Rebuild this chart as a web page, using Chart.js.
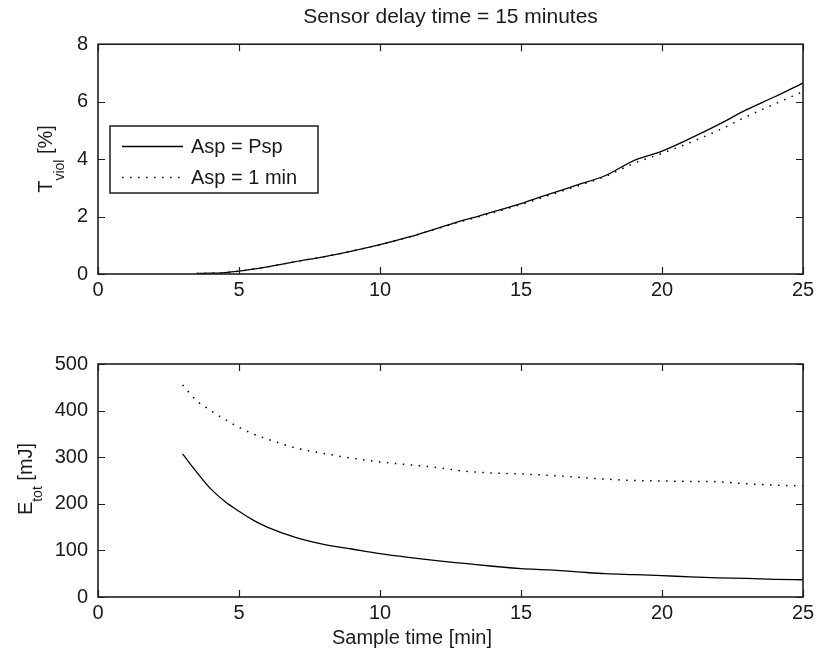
<!DOCTYPE html>
<html><head><meta charset="utf-8">
<script src="https://cdn.jsdelivr.net/npm/chart.js@4"></script>
<style>
html,body{margin:0;padding:0;background:#fff;width:819px;height:659px;overflow:hidden}
#c1{position:absolute;left:0;top:0}
#c2{position:absolute;left:0;top:320px}
</style>
</head><body>
<canvas id="c1" width="819" height="320"></canvas>
<canvas id="c2" width="819" height="339"></canvas>
<script>
// ---- data ----
const titleText = 'Sensor delay time = 15 minutes';
const xLabel = 'Sample time [min]';
const seriesNames = ['Asp = Psp', 'Asp = 1 min'];
const xTicks = [0, 5, 10, 15, 20, 25];
const topTicks = [0, 2, 4, 6, 8];
const bottomTicks = [0, 100, 200, 300, 400, 500];

const tViolX     = [3.5, 4, 4.5, 5, 6, 7, 8, 9, 10, 11, 12, 13, 14, 15, 16, 17, 18, 19, 20, 21, 22, 23, 24, 25];
const tViolPsp   = [0.02, 0.03, 0.05, 0.1, 0.25, 0.43, 0.6, 0.8, 1.02, 1.28, 1.58, 1.88, 2.16, 2.45, 2.78, 3.1, 3.43, 3.95, 4.28, 4.72, 5.2, 5.72, 6.17, 6.65];
const tViol1min  = [0.02, 0.03, 0.05, 0.1, 0.25, 0.43, 0.6, 0.8, 1.02, 1.28, 1.57, 1.86, 2.13, 2.42, 2.74, 3.06, 3.4, 3.85, 4.2, 4.58, 5.0, 5.48, 5.92, 6.35];

const eTotX      = [3, 3.5, 4, 4.5, 5, 5.5, 6, 7, 8, 9, 10, 11, 12, 13, 14, 15, 16, 17, 18, 19, 20, 21, 22, 23, 24, 25];
const eTotPsp    = [307, 268, 232, 205, 184, 165, 150, 128, 113, 103, 93, 85, 78, 72, 66, 61, 58, 54, 50, 48, 46, 43, 41, 40, 38, 37];
const eTot1min   = [455, 421, 400, 381, 364, 350, 339, 320, 308, 298, 290, 284, 278, 270, 266, 264, 261, 257, 253, 250, 249, 248, 247, 243, 240, 238];

// ---- styling ----
const FONT = '"Liberation Sans", Arial, Helvetica, sans-serif';
const TXT = '#1a1a1a';
const FRAME = '#1e1e1e';

function pts(xs, ys) { return xs.map((x, i) => ({ x: x, y: ys[i] })); }

const framePlugin = {
  id: 'matlabFrame',
  afterDraw(chart) {
    const ctx = chart.ctx, a = chart.chartArea;
    const xs = chart.scales.x, ys = chart.scales.y;
    const L = 7;
    ctx.save();
    ctx.strokeStyle = FRAME;
    ctx.lineWidth = 1.6;
    ctx.strokeRect(a.left, a.top, a.right - a.left, a.bottom - a.top);
    ctx.lineWidth = 1.2;
    ctx.beginPath();
    xs.ticks.forEach((t, i) => {
      const p = Math.round(xs.getPixelForTick(i)) + 0.5;
      ctx.moveTo(p, a.bottom); ctx.lineTo(p, a.bottom - L);
      ctx.moveTo(p, a.top); ctx.lineTo(p, a.top + L);
    });
    ys.ticks.forEach((t, i) => {
      const p = Math.round(ys.getPixelForTick(i)) + 0.5;
      ctx.moveTo(a.left, p); ctx.lineTo(a.left + L, p);
      ctx.moveTo(a.right, p); ctx.lineTo(a.right - L, p);
    });
    ctx.stroke();
    ctx.restore();
  }
};

const textPlugin = {
  id: 'extraText',
  afterDraw(chart, args, opts) {
    const ctx = chart.ctx;
    ctx.save();
    ctx.fillStyle = TXT;
    if (opts.yTitle) {
      const o = opts.yTitle;
      ctx.textBaseline = 'alphabetic';
      ctx.textAlign = 'left';
      const fMain = '20px ' + FONT, fSub = '14px ' + FONT;
      ctx.font = fMain; const w1 = ctx.measureText(o.main).width;
      ctx.font = fSub; const w2 = ctx.measureText(o.sub).width;
      ctx.font = fMain; const w3 = ctx.measureText(o.rest).width;
      const W = w1 + w2 + w3;
      ctx.save();
      ctx.translate(o.x, o.y);
      ctx.rotate(-Math.PI / 2);
      let p = -W / 2;
      ctx.font = fMain; ctx.fillText(o.main, p, 0); p += w1;
      ctx.font = fSub; ctx.fillText(o.sub, p, o.subShift); p += w2;
      ctx.font = fMain; ctx.fillText(o.rest, p, 0);
      ctx.restore();
    }
    if (opts.xTitle) {
      const o = opts.xTitle;
      ctx.font = '20px ' + FONT;
      ctx.textAlign = 'center';
      ctx.textBaseline = 'middle';
      ctx.fillText(o.text, o.x, o.y);
    }
    ctx.restore();
  }
};

const legendPlugin = {
  id: 'matlabLegend',
  afterDraw(chart, args, opts) {
    if (!opts || !opts.show) return;
    const ctx = chart.ctx;
    ctx.save();
    ctx.fillStyle = '#fff';
    ctx.fillRect(opts.x, opts.y, opts.w, opts.h);
    ctx.strokeStyle = FRAME;
    ctx.lineWidth = 1.5;
    ctx.strokeRect(opts.x, opts.y, opts.w, opts.h);
    chart.data.datasets.forEach((ds, i) => {
      const cy = opts.y + opts.rowY[i];
      ctx.save();
      ctx.strokeStyle = ds.borderColor;
      ctx.lineWidth = ds.borderWidth;
      ctx.setLineDash(ds.borderDash || []);
      ctx.beginPath();
      ctx.moveTo(opts.x + 12, cy + 0.5);
      ctx.lineTo(opts.x + 73, cy + 0.5);
      ctx.stroke();
      ctx.restore();
      ctx.fillStyle = TXT;
      ctx.font = '20px ' + FONT;
      ctx.textBaseline = 'middle';
      ctx.textAlign = 'left';
      ctx.fillText(ds.label, opts.x + 81, cy + 1);
    });
    ctx.restore();
  }
};

function xScale(h) {
  return {
    type: 'linear', min: 0, max: 25,
    afterBuildTicks: s => { s.ticks = xTicks.map(v => ({ value: v })); },
    grid: { display: false, drawTicks: false },
    border: { display: false },
    ticks: { color: TXT, font: { family: FONT, size: 20 }, padding: 4, maxRotation: 0, autoSkip: false },
    afterFit: s => { s.height = h; }
  };
}
function yScale(min, max, tickArr) {
  return {
    type: 'linear', min: min, max: max,
    afterBuildTicks: s => { s.ticks = tickArr.map(v => ({ value: v })); },
    grid: { display: false, drawTicks: false },
    border: { display: false },
    ticks: { color: TXT, font: { family: FONT, size: 20 }, padding: 10 },
    afterFit: s => { s.width = 98; }
  };
}

const solid = { borderColor: '#000', borderWidth: 1.3, pointRadius: 0, cubicInterpolationMode: 'monotone', fill: false };
const dotted = { borderColor: '#000', borderWidth: 1.5, borderDash: [1.5, 6.5], pointRadius: 0, cubicInterpolationMode: 'monotone', fill: false };

new Chart(document.getElementById('c1'), {
  type: 'line',
  data: {
    datasets: [
      Object.assign({ label: seriesNames[0], data: pts(tViolX, tViolPsp) }, solid),
      Object.assign({ label: seriesNames[1], data: pts(tViolX, tViol1min) }, dotted)
    ]
  },
  options: {
    responsive: false, animation: false, devicePixelRatio: 1,
    layout: { padding: { left: 0, right: 16, top: 0, bottom: 0 } },
    plugins: {
      legend: { display: false }, tooltip: { enabled: false },
      title: { display: true, fullSize: false, text: titleText, color: TXT, font: { family: FONT, size: 21, weight: 'normal' }, padding: { top: 5, bottom: 14 } },
      extraText: { yTitle: { main: 'T', sub: 'viol', rest: ' [%]', x: 52, y: 159, subShift: 12 } },
      matlabLegend: { show: true, x: 110, y: 126, w: 208, h: 67, rowY: [20, 51] }
    },
    scales: { x: xScale(46), y: yScale(0, 8, topTicks) }
  },
  plugins: [framePlugin, textPlugin, legendPlugin]
});

new Chart(document.getElementById('c2'), {
  type: 'line',
  data: {
    datasets: [
      Object.assign({ label: seriesNames[0], data: pts(eTotX, eTotPsp) }, solid),
      Object.assign({ label: seriesNames[1], data: pts(eTotX, eTot1min) }, dotted)
    ]
  },
  options: {
    responsive: false, animation: false, devicePixelRatio: 1,
    layout: { padding: { left: 0, right: 16, top: 44, bottom: 0 } },
    plugins: {
      legend: { display: false }, tooltip: { enabled: false },
      extraText: {
        yTitle: { main: 'E', sub: 'tot', rest: ' [mJ]', x: 32, y: 159, subShift: 10 },
        xTitle: { text: xLabel, x: 412, y: 318 }
      },
      matlabLegend: { show: false }
    },
    scales: { x: xScale(62), y: yScale(0, 500, bottomTicks) }
  },
  plugins: [framePlugin, textPlugin, legendPlugin]
});
</script>
</body></html>
